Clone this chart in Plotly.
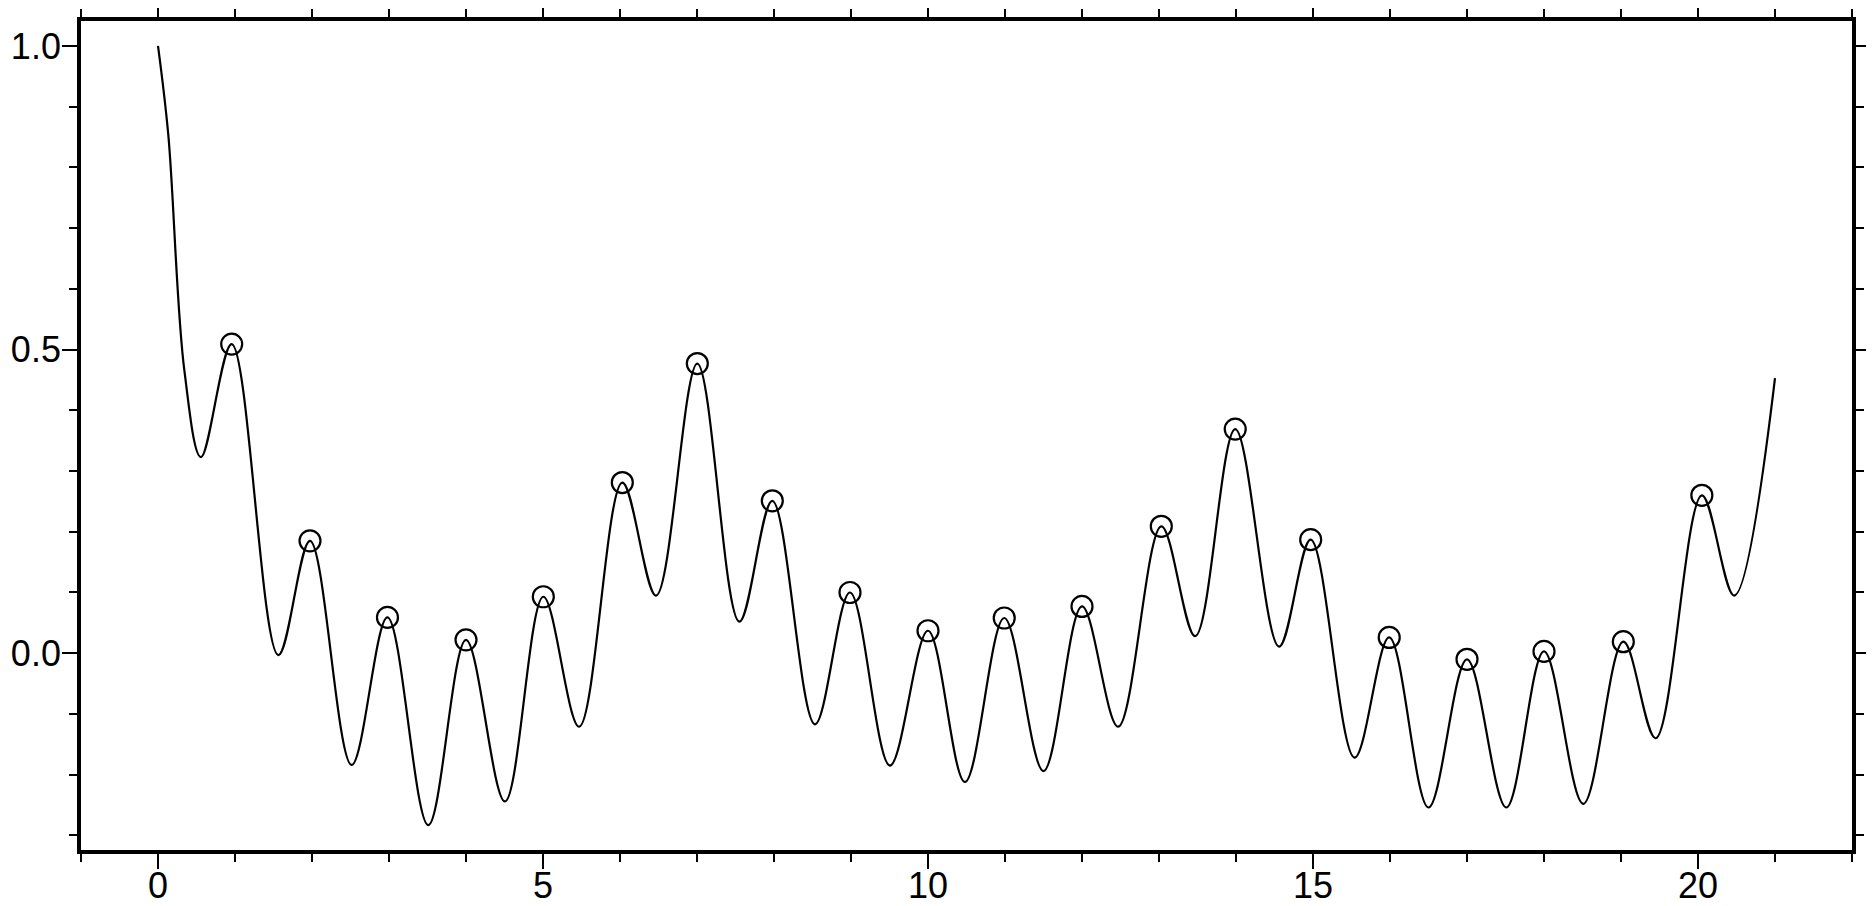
import plotly.graph_objects as go

# Curve key points (start, extrema, end)
curve_x = [0.0, 0.134, 0.342, 0.558, 0.957, 1.563, 1.974, 2.515, 2.98, 3.51,
           4.0, 4.506, 5.004, 5.47, 6.03, 6.468, 7.004, 7.55, 7.978, 8.532,
           8.987, 9.506, 10.0, 10.48, 10.99, 11.5, 12.0, 12.47, 13.03, 13.47,
           13.99, 14.56, 14.97, 15.54, 15.99, 16.5, 17.0, 17.51, 18.0, 18.51,
           19.03, 19.45, 20.05, 20.47, 21.0]
curve_y = [1.0, 0.853, 0.466, 0.323, 0.509, -0.003, 0.185, -0.184, 0.059, -0.283,
           0.022, -0.244, 0.093, -0.121, 0.281, 0.095, 0.477, 0.052, 0.251, -0.117,
           0.100, -0.185, 0.037, -0.212, 0.058, -0.194, 0.077, -0.121, 0.209, 0.028,
           0.369, 0.011, 0.187, -0.172, 0.026, -0.254, -0.010, -0.254, 0.003, -0.248,
           0.019, -0.140, 0.260, 0.095, 0.453]

# Peaks marked with circles
peak_x = [0.957, 1.974, 2.98, 4.0, 5.004, 6.03, 7.004, 7.978, 8.987, 10.0,
          10.99, 12.0, 13.03, 13.99, 14.97, 15.99, 17.0, 18.0, 19.03, 20.05]
peak_y = [0.509, 0.185, 0.059, 0.022, 0.093, 0.281, 0.477, 0.251, 0.100, 0.037,
          0.058, 0.077, 0.209, 0.369, 0.187, 0.026, -0.010, 0.003, 0.019, 0.260]

x_range = [-1, 22]
y_range = [-0.324, 1.041]

fig = go.Figure()
fig.add_trace(go.Scatter(
    x=curve_x, y=curve_y, mode="lines",
    line=dict(color="black", width=2.2, shape="spline", smoothing=1.0),
    hoverinfo="skip"))
fig.add_trace(go.Scatter(
    x=peak_x, y=peak_y, mode="markers",
    marker=dict(symbol="circle-open", size=21, color="black",
                line=dict(width=2.2, color="black"))))

font = dict(family="Liberation Sans, Arial, Helvetica, sans-serif", size=36, color="black")
common = dict(
    ticks="outside", ticklen=15, tickwidth=2, tickcolor="black",
    showline=True, linewidth=3.8, linecolor="black", mirror="allticks",
    showgrid=False, zeroline=False, tickfont=font, automargin=False,
)
# the page body adds an 8px offset, so the figure is sized and margined to compensate
fig.update_layout(
    width=1866, height=898,
    margin=dict(l=73, r=22, t=13, b=56, pad=0),
    paper_bgcolor="white", plot_bgcolor="white",
    showlegend=False,
    xaxis=dict(range=x_range, tick0=0, dtick=5, ticklabelstandoff=-14,
               minor=dict(dtick=1, tick0=0, ticks="outside", ticklen=8,
                          tickwidth=2, tickcolor="black", showgrid=False),
               **common),
    yaxis=dict(range=y_range, tick0=0, dtick=0.5, tickformat=".1f",
               ticklabelstandoff=-6,
               minor=dict(dtick=0.1, tick0=0, ticks="outside", ticklen=8,
                          tickwidth=2, tickcolor="black", showgrid=False),
               **common),
)
fig.write_html("out.html")
